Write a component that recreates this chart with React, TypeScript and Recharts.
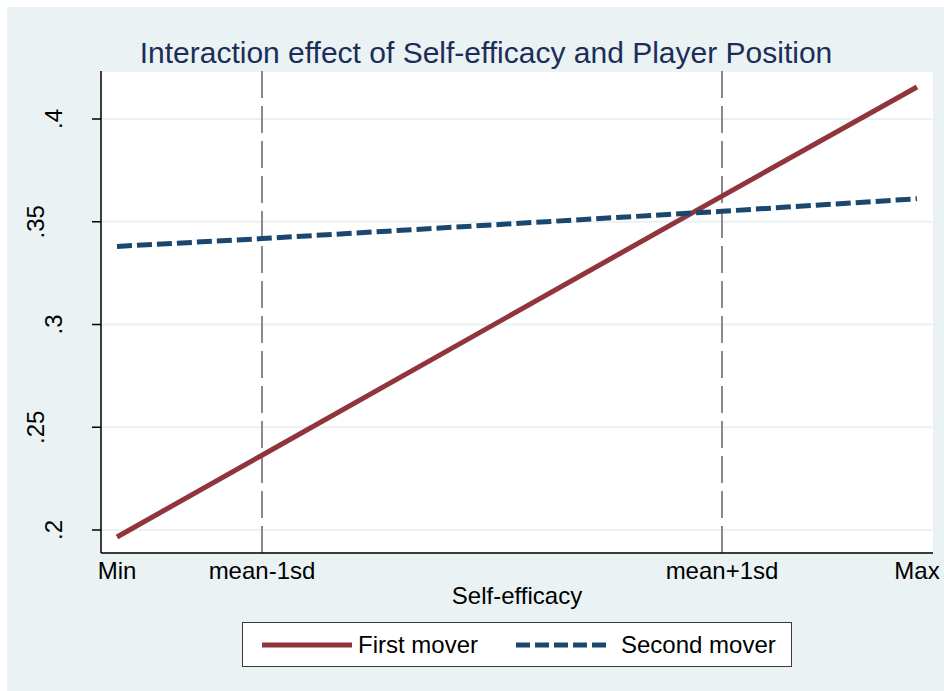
import React from 'react';
import {
  LineChart,
  Line,
  XAxis,
  YAxis,
  CartesianGrid,
  ReferenceLine,
  Legend
} from 'recharts';

// x positions of the four evaluation points (Min .. Max of self-efficacy)
const xValues = [1, 1.725, 4.025, 5];
const xLabels = ['Min', 'mean-1sd', 'mean+1sd', 'Max'];
const yTicks = [0.2, 0.25, 0.3, 0.35, 0.4];

const firstMover = [0.1966, 0.2364, 0.3625, 0.4156];
const secondMover = [0.338, 0.3418, 0.3551, 0.3612];

const series = [
  { key: 'first', name: 'First mover', color: '#90353B', dash: undefined as string | undefined },
  { key: 'second', name: 'Second mover', color: '#1A476F', dash: '15 5' }
];

const FONT = '"Liberation Sans", Arial, sans-serif';

const data = xValues.map((x, i) => ({
  x,
  first: firstMover[i],
  second: secondMover[i]
}));

const fmtY = (v: number) => String(v).replace(/^0/, '');

const YTick = ({ x, y, payload }: any) => {
  const label = fmtY(payload.value);
  // Stata pushes the longer rotated labels further out
  const bx = x - 30 - (label.length - 2) * 18;
  return (
    <text
      x={bx}
      y={y}
      transform={`rotate(-90 ${bx} ${y})`}
      textAnchor="middle"
      fontSize={24}
      fontFamily={FONT}
      fill="#000"
    >
      {label}
    </text>
  );
};

const XTick = ({ x, y, payload }: any) => {
  const idx = xValues.indexOf(payload.value);
  return (
    <text x={x} y={y + 26} textAnchor="middle" fontSize={24} fontFamily={FONT} fill="#000">
      {xLabels[idx]}
    </text>
  );
};

const LegendBox = () => (
  <div
    style={{
      boxSizing: 'border-box',
      width: 550,
      height: 45,
      border: '1.5px solid #3a3a3a',
      background: '#fff',
      display: 'flex',
      alignItems: 'center',
      fontFamily: FONT,
      fontSize: 24,
      color: '#000'
    }}
  >
    {series.map((s, i) => (
      <React.Fragment key={s.key}>
        <svg width={90} height={10} style={{ marginLeft: i === 0 ? 19 : 38 }}>
          <line x1={0} y1={5} x2={90} y2={5} stroke={s.color} strokeWidth={5} strokeDasharray={s.dash ? '14 5' : undefined} />
        </svg>
        <span style={{ marginLeft: i === 0 ? 6 : 15 }}>{s.name}</span>
      </React.Fragment>
    ))}
  </div>
);

export default function App() {
  return (
    <div style={{ position: 'absolute', left: 0, top: 0, width: 944, height: 691, background: '#fff' }}>
      <div style={{ position: 'absolute', left: 7, top: 7, width: 937, height: 684, background: '#EAF2F3' }} />
      <div
        style={{
          position: 'absolute',
          left: 86,
          top: 36,
          width: 800,
          textAlign: 'center',
          fontFamily: FONT,
          fontSize: 30,
          color: '#1C2D5A'
        }}
      >
        Interaction effect of Self-efficacy and Player Position
      </div>
      <div style={{ position: 'absolute', left: 0, top: 0 }}>
        <LineChart width={944} height={691} data={data} margin={{ top: 71, right: 11, bottom: 78, left: 0 }}>
          <CartesianGrid fill="#fff" vertical={false} stroke="#EAF2F3" strokeWidth={2} />
          <XAxis
            dataKey="x"
            type="number"
            domain={[0.92, 5.08]}
            ticks={xValues}
            allowDataOverflow
            height={60}
            tickSize={0}
            tickMargin={0}
            tickLine={false}
            axisLine={{ stroke: '#000', strokeWidth: 1.5 }}
            tick={<XTick />}
            label={{ value: 'Self-efficacy', position: 'insideTop', offset: 34, fontSize: 24, fontFamily: FONT, fill: '#000' }}
          />
          <YAxis
            type="number"
            domain={[0.18881, 0.42336]}
            ticks={yTicks}
            allowDataOverflow
            width={101}
            tickSize={9}
            tickMargin={0}
            tickLine={{ stroke: '#000', strokeWidth: 1.5 }}
            axisLine={{ stroke: '#000', strokeWidth: 1.5 }}
            tick={<YTick />}
          />
          <ReferenceLine x={xValues[1]} stroke="#8A8A8A" strokeWidth={2} strokeDasharray="27 8" />
          <ReferenceLine x={xValues[2]} stroke="#8A8A8A" strokeWidth={2} strokeDasharray="27 8" />
          {series.map((s) => (
            <Line
              key={s.key}
              type="linear"
              dataKey={s.key}
              name={s.name}
              stroke={s.color}
              strokeWidth={5}
              strokeDasharray={s.dash}
              dot={false}
              activeDot={false}
              isAnimationActive={false}
            />
          ))}
          <Legend
            layout="horizontal"
            verticalAlign="middle"
            align="center"
            wrapperStyle={{ top: 622, left: 242, width: 550, height: 45 }}
            content={<LegendBox />}
          />
        </LineChart>
      </div>
    </div>
  );
}
